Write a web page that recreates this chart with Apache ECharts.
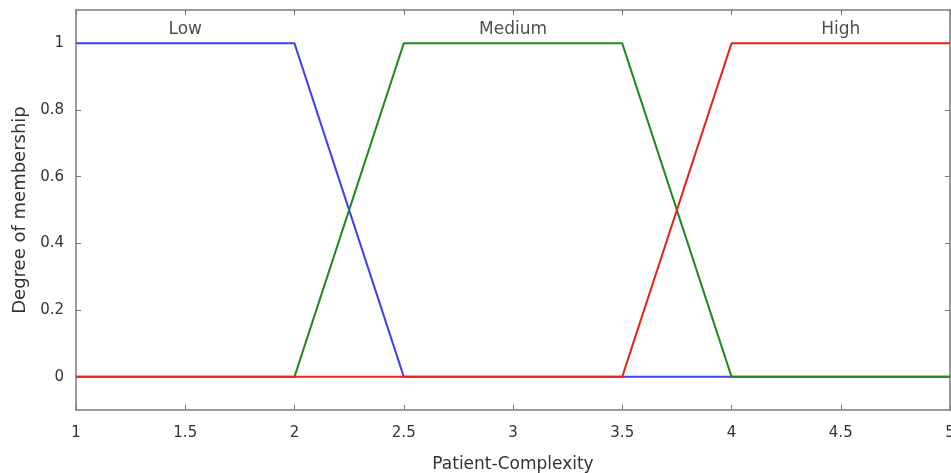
<!DOCTYPE html>
<html>
<head>
<meta charset="utf-8">
<script src="https://cdn.jsdelivr.net/npm/echarts@6/dist/echarts.min.js"></script>
<style>html,body{margin:0;padding:0;background:#fff;}#c{width:951px;height:473px;}</style>
</head>
<body>
<div id="c"></div>
<script>
const lowX = [1, 2, 2.5, 5];
const lowY = [1, 1, 0, 0];
const medX = [1, 2, 2.5, 3.5, 4, 5];
const medY = [0, 0, 1, 1, 0, 0];
const highX = [1, 3.5, 4, 5];
const highY = [0, 0, 1, 1];
const mfNames = ['Low', 'Medium', 'High'];
const mfLabelX = [1.5, 3, 4.5];
const mfLabelY = 1.04;
const yTicks = [0, 0.2, 0.4, 0.6, 0.8, 1];
const xTicks = [1, 1.5, 2, 2.5, 3, 3.5, 4, 4.5, 5];

const pairs = (xs, ys) => xs.map((x, i) => [x, ys[i]]);
const axisColor = '#7a7a7a';
const font = 'DejaVu Sans, Liberation Sans, Arial, sans-serif';

const chart = echarts.init(document.getElementById('c'), null, {renderer: 'canvas'});
chart.setOption({
  animation: false,
  backgroundColor: '#fff',
  grid: {left: 76, right: 1, top: 10, bottom: 63, containLabel: false, outerBoundsMode: 'none'},
  xAxis: [{
    type: 'value', min: 1, max: 5, interval: 0.5,
    name: 'Patient-Complexity', nameLocation: 'middle', nameGap: 46,
    nameTextStyle: {color: '#333', fontSize: 17, fontFamily: font},
    axisLine: {show: true, onZero: false, lineStyle: {color: axisColor, width: 1.5}},
    axisTick: {show: true, inside: true, length: 5, lineStyle: {color: axisColor}},
    axisLabel: {color: '#333', fontSize: 15, fontFamily: font, margin: 16,
      customValues: xTicks},
    splitLine: {show: false}
  }, {
    type: 'value', min: 1, max: 5, interval: 0.5, position: 'top',
    axisLine: {show: true, onZero: false, lineStyle: {color: axisColor, width: 1.5}},
    axisTick: {show: true, inside: true, length: 5, lineStyle: {color: axisColor}},
    axisLabel: {show: false}, splitLine: {show: false}
  }],
  yAxis: [{
    type: 'value', min: -0.1, max: 1.1,
    name: 'Degree of membership', nameLocation: 'middle', nameGap: 45,
    nameTextStyle: {color: '#333', fontSize: 18, fontFamily: font},
    axisLine: {show: true, onZero: false, lineStyle: {color: axisColor, width: 1.5}},
    axisTick: {show: true, inside: true, length: 5, customValues: yTicks, lineStyle: {color: axisColor}},
    axisLabel: {color: '#333', fontSize: 15, fontFamily: font, margin: 12, customValues: yTicks},
    splitLine: {show: false}
  }, {
    type: 'value', min: -0.1, max: 1.1, position: 'right',
    axisLine: {show: true, onZero: false, lineStyle: {color: axisColor, width: 1.5}},
    axisTick: {show: true, inside: true, length: 5, customValues: yTicks, lineStyle: {color: axisColor}},
    axisLabel: {show: false}, splitLine: {show: false}
  }],
  series: [
    {type: 'line', data: pairs(lowX, lowY), symbol: 'none', lineStyle: {color: '#4040f0', width: 2}, z: 2},
    {type: 'line', data: pairs(medX, medY), symbol: 'none', lineStyle: {color: '#1f8a1f', width: 2}, z: 3},
    {type: 'line', data: pairs(highX, highY), symbol: 'none', lineStyle: {color: '#e8221c', width: 2}, z: 4},
    {type: 'scatter', symbolSize: 0, z: 5,
      data: mfNames.map((n, i) => ({value: [mfLabelX[i], mfLabelY], name: n})),
      label: {show: true, position: 'inside', formatter: p => p.name, color: '#222', fontSize: 17, fontFamily: font}}
  ]
});
</script>
</body>
</html>
